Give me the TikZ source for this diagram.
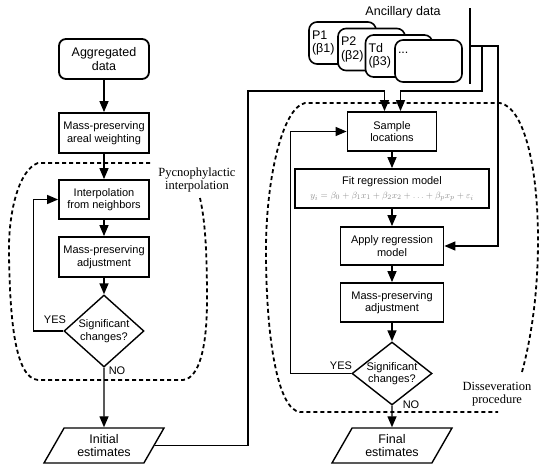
\documentclass[tikz,border=0pt]{standalone}
\usepackage{fontspec}
\setmainfont{Liberation Sans}
\newfontfamily\serifnote{Liberation Serif}
\usepackage{tikz}
\usetikzlibrary{arrows.meta,positioning,shapes.geometric}
\newcommand{\procfont}{\fontsize{11}{12.5}\selectfont}
\newcommand{\termfont}{\fontsize{12.5}{13.5}\selectfont}
\newcommand{\notefont}{\serifnote\fontsize{12.5}{13}\selectfont}

\begin{document}
\begin{tikzpicture}[x=1pt,y=-1pt,
  procbox/.style={draw,line width=1.8pt,minimum width=90pt,minimum height=40pt,inner sep=1pt,align=center,font=\procfont},
  startbox/.style={procbox,rounded corners=7pt,font=\termfont},
  decision/.style={diamond,draw,line width=1.4pt,inner sep=0pt,minimum width=80pt,align=center,font=\procfont},
  termbox/.style={trapezium,trapezium left angle=53,trapezium right angle=127,trapezium stretches body,draw,line width=1.4pt,minimum width=120pt,minimum height=35pt,inner sep=2pt,align=center,font=\termfont},
  ancbox/.style={draw,fill=white,line width=1.6pt,rounded corners=8pt,minimum height=42pt,text width=61pt,inner sep=3pt,align=left,font=\termfont},
  flow/.style={line width=1.4pt,-{Triangle[length=11pt,width=9pt]}},
  wire/.style={line width=1.4pt},
  region/.style={line width=1.8pt,dash pattern=on 4pt off 3pt},
  yesno/.style={font=\procfont,inner sep=0pt},
  note/.style={font=\notefont,align=center}]
\useasboundingbox (0,0) rectangle (550,471);
\definecolor{formulagray}{HTML}{8C8C8C}

% dashed regions
\draw[region] (150,163) -- (38,163) .. controls (18,170) and (8,215) .. (9,255)
  .. controls (10,320) and (15,378) .. (38,380) -- (183,380)
  .. controls (200,378) and (207,345) .. (207,300) .. controls (207,250) and (205,220) .. (200,198);
\draw[region] (522,372) .. controls (532,335) and (538,290) .. (538,240)
  .. controls (538,170) and (525,108) .. (500,103) -- (305,103)
  .. controls (282,108) and (266,180) .. (266,250) .. controls (266,340) and (278,410) .. (300,412) -- (498,412);
\node[note] (pycno) at (197,179.5) {Pycnophylactic\\interpolation};
\node[note] (dissev) at (497,394) {Disseveration\\procedure};

% Pycnophylactic interpolation (left)
\node[startbox] (agg) at (104,59) {Aggregated\\data};
\node[procbox] (areal) at (104,133) {Mass-preserving\\areal weighting};
\node[procbox,minimum height=39pt] (interp) at (104,199.5) {Interpolation\\from neighbors};
\node[procbox] (adjL) at (104,257) {Mass-preserving\\adjustment};
\node[decision,aspect=1.11,minimum height=72pt] (decL) at (104,331) {Significant\\changes?};
\node[termbox] (initial) at (104,445.5) {Initial\\estimates};

% Disseveration procedure (right)
\node[procbox,minimum width=89pt,minimum height=39pt] (sample) at (392,131.5) {Sample\\locations};
\node[procbox,minimum width=194pt,minimum height=39pt] (fit) at (392,188.5) {Fit regression model\\[2pt]
  {\fontsize{9.5}{11}\selectfont\color{formulagray}$y_i=\beta_0+\beta_1x_1+\beta_2x_2+\ldots+\beta_px_p+\varepsilon_i$}};
\node[procbox,minimum width=103pt,minimum height=38pt] (apply) at (392,246) {Apply regression\\model};
\node[procbox,minimum width=103pt,minimum height=39pt] (adjR) at (392,302.5) {Mass-preserving\\adjustment};
\node[decision,aspect=1.27,minimum height=63pt] (decR) at (392,373.5) {Significant\\changes?};
\node[termbox] (final) at (392,445.5) {Final\\estimates};

% Ancillary data
\node[font=\termfont] (anctitle) at (403,12) {Ancillary data};
\node[ancbox] (p1) at (342.5,43) {P1\\(β1)};
\node[ancbox] (p2) at (371.5,49.5) {P2\\(β2)};
\node[ancbox] (td) at (399,56) {Td\\(β3)};
\node[ancbox,text height=9pt,text depth=24pt] (more) at (428.5,61) {...};
\coordinate (busT) at (470,8);
\coordinate (busB) at (470,84);
\coordinate (busJ) at (470,46);
\coordinate (busM) at (482,46);
\coordinate (busR) at (498,46);
\coordinate (link) at (248,91);

% connectors
\draw[flow] (agg.south) -- (areal.north);
\draw[flow] (areal.south) -- (interp.north);
\draw[flow] (interp.south) -- (adjL.north);
\draw[flow] (adjL.south) -- (decL.north);
\draw[flow] (decL.south) -- (initial.north);
\draw[flow] (decL.west) -- ++(-30,0) |- (interp.west);
\draw[flow] (sample.south) -- (fit.north);
\draw[flow] (fit.south) -- (apply.north);
\draw[flow] (apply.south) -- (adjR.north);
\draw[flow] (adjR.south) -- (decR.north);
\draw[flow] (decR.south) -- (final.north);
\draw[flow] (decR.west) -- ++(-61,0) |- (sample.west);
\draw[flow] (initial.east) -| (link) -| ([xshift=-7.5pt]sample.north);
\draw[wire] (busT) -- (busB);
\draw[flow] (busJ) -- (busR) |- (apply.east);
\draw[flow] (busM) -- ++(0,45) -| ([xshift=8.5pt]sample.north);

% branch labels
\node[yesno] (yesL) at (55,320) {YES};
\node[yesno] (noL) at (117,370.5) {NO};
\node[yesno] (yesR) at (341,365.5) {YES};
\node[yesno] (noR) at (411,405) {NO};
\end{tikzpicture}
\end{document}
